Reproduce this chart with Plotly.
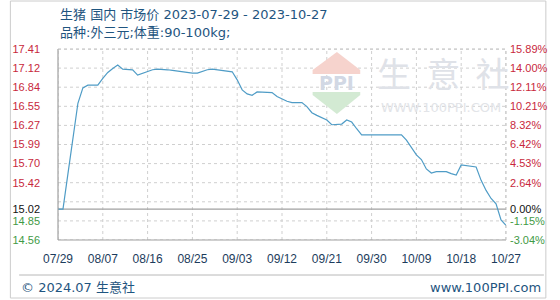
import pandas as pd
import plotly.graph_objects as go

# ---------------- data ----------------
start_date = "2023-07-29"
prices = [
    15.02, 15.02, 15.55, 16.10, 16.60, 16.83, 16.87, 16.87, 16.87, 16.97,
    17.06, 17.12, 17.17, 17.11, 17.11, 17.10, 17.02, 17.05, 17.08, 17.10,
    17.11, 17.11, 17.10, 17.09, 17.08, 17.06, 17.05, 17.05, 17.05, 17.08,
    17.10, 17.11, 17.10, 17.09, 17.08, 17.07, 16.95, 16.80, 16.74, 16.72,
    16.77, 16.77, 16.77, 16.76, 16.70, 16.66, 16.63, 16.61, 16.61, 16.61,
    16.55, 16.46, 16.42, 16.38, 16.35, 16.28, 16.28, 16.29, 16.35, 16.32,
    16.22, 16.13, 16.13, 16.13, 16.13, 16.13, 16.13, 16.13, 16.13, 16.13,
    16.05, 15.94, 15.83, 15.76, 15.62, 15.56, 15.58, 15.58, 15.58, 15.55,
    15.53, 15.68, 15.67, 15.65, 15.65, 15.45, 15.30, 15.18, 15.10, 14.86,
    14.78,
]
dates = pd.date_range(start_date, periods=len(prices), freq="D")

x_tick_labels = ["07/29", "08/07", "08/16", "08/25", "09/03", "09/12",
                 "09/21", "09/30", "10/09", "10/18", "10/27"]
x_tick_step_days = 9

base_price = 15.02
y_min, y_max = 14.56, 17.41
left_tick_vals = [17.41, 17.125, 16.84, 16.555, 16.27, 15.985, 15.70, 15.415, 15.02, 14.845, 14.56]
left_tick_text = ["17.41", "17.12", "16.84", "16.55", "16.27", "15.99", "15.70", "15.42", "15.02", "14.85", "14.56"]
right_tick_text = ["15.89%", "14.00%", "12.11%", "10.21%", "8.32%", "6.42%", "4.53%", "2.64%", "0.00%", "-1.15%", "-3.04%"]
grid_levels = [17.41, 17.125, 16.84, 16.555, 16.27, 15.985, 15.70, 15.415, 15.13, 14.845, 14.56]

title_line1 = "生猪 国内 市场价 2023-07-29 - 2023-10-27"
title_line2 = "品种:外三元;体重:90-100kg;"
footer_left = "© 2024.07 生意社"
footer_right = "www.100PPI.com"

# ---------------- styles ----------------
RED = "#c8283c"
GREEN = "#3f9a45"
BLACK = "#111111"
BLUE_TXT = "#1f5580"
LINE = "#4f9cc6"

def colored(texts, vals):
    out = []
    for t, v in zip(texts, vals):
        c = RED if v > base_price + 1e-9 else (BLACK if abs(v - base_price) < 1e-9 else GREEN)
        out.append(f"<span style='color:{c}'>{t}</span>")
    return out

W, H = 560, 300
L, R, T, B = 50, 49, 49, 60
PW, PH = W - L - R, H - T - B

def px(xp):
    return (xp - L) / PW

def py(yp):
    return (H - B - yp) / PH

tick_dates = pd.date_range(start_date, periods=len(x_tick_labels), freq=f"{x_tick_step_days}D")

fig = go.Figure()
fig.add_trace(go.Scatter(x=dates, y=prices, mode="lines",
                         line=dict(color=LINE, width=1.2), hoverinfo="skip",
                         showlegend=False))
fig.add_trace(go.Scatter(x=[dates[0]], y=[prices[0]], yaxis="y2", mode="markers",
                         marker=dict(opacity=0), hoverinfo="skip", showlegend=False))

shapes = []
# horizontal grid
for g in grid_levels:
    shapes.append(dict(type="line", xref="paper", yref="y", x0=0, x1=1, y0=g, y1=g,
                       line=dict(color="#cfcfcf", width=1, dash="dot"), layer="below"))
# vertical grid
for d in tick_dates:
    shapes.append(dict(type="line", xref="x", yref="paper", x0=d, x1=d, y0=0, y1=1,
                       line=dict(color="#cfcfcf", width=1, dash="dot"), layer="below"))
# baseline
shapes.append(dict(type="line", xref="paper", yref="y", x0=0, x1=1, y0=base_price, y1=base_price,
                   line=dict(color="#a0a0a0", width=1.2), layer="below"))
# solid left and bottom axis borders
shapes.append(dict(type="line", xref="paper", yref="paper", x0=0, x1=0, y0=0, y1=1,
                   line=dict(color="#a0a0a0", width=1.2)))
shapes.append(dict(type="line", xref="paper", yref="paper", x0=0, x1=1, y0=0, y1=0,
                   line=dict(color="#a0a0a0", width=1.2)))
# outer frame
shapes.append(dict(type="rect", xref="paper", yref="paper", x0=px(1), x1=px(552), y0=py(298), y1=py(1),
                   line=dict(color="#cccccc", width=1), layer="below"))
# footer separator
shapes.append(dict(type="line", xref="paper", yref="paper", x0=px(10), x1=px(550), y0=py(275), y1=py(275),
                   line=dict(color="#b8b8b8", width=1)))
# watermark logo
shapes.append(dict(type="path", xref="paper", yref="paper",
                   path=f"M {px(337)},{py(52)} L {px(361)},{py(70)} L {px(361)},{py(74)} L {px(312)},{py(74)} L {px(312)},{py(70)} Z",
                   fillcolor="#f6d3cd", line=dict(width=0), layer="below"))
shapes.append(dict(type="path", xref="paper", yref="paper",
                   path=f"M {px(312)},{py(92)} L {px(361)},{py(92)} L {px(361)},{py(95)} L {px(337)},{py(114)} L {px(312)},{py(95)} Z",
                   fillcolor="#d3ead3", line=dict(width=0), layer="below"))

annotations = [
    dict(text=title_line1, x=px(50), y=py(15), xref="paper", yref="paper", xanchor="left", yanchor="middle",
         showarrow=False, font=dict(family="DejaVu Sans, Noto Sans CJK SC", size=13, color=BLUE_TXT)),
    dict(text=title_line2, x=px(50), y=py(33), xref="paper", yref="paper", xanchor="left", yanchor="middle",
         showarrow=False, font=dict(family="DejaVu Sans, Noto Sans CJK SC", size=13, color=BLUE_TXT)),
    dict(text=footer_left, x=px(10), y=py(287), xref="paper", yref="paper", xanchor="left", yanchor="middle",
         showarrow=False, font=dict(family="DejaVu Sans, Noto Sans CJK SC", size=13, color=BLUE_TXT)),
    dict(text=footer_right, x=px(549), y=py(287), xref="paper", yref="paper", xanchor="right", yanchor="middle",
         showarrow=False, font=dict(family="DejaVu Sans, Noto Sans CJK SC", size=13, color=BLUE_TXT)),
    dict(text="<b>PPI</b>", x=px(337), y=py(83), xref="paper", yref="paper", xanchor="center", yanchor="middle",
         showarrow=False, font=dict(family="DejaVu Sans", size=19, color="#d2d8e4")),
    dict(text="生  意  社", x=px(446), y=py(72), xref="paper", yref="paper", xanchor="center", yanchor="middle",
         showarrow=False, font=dict(family="Noto Sans CJK SC", size=34, color="#dfe2e8")),
    dict(text="WWW.100PPI.COM", x=px(444), y=py(107), xref="paper", yref="paper", xanchor="center", yanchor="middle",
         showarrow=False, font=dict(family="DejaVu Sans", size=13, color="#e2e4e8")),
]

fig.update_layout(
    width=W, height=H, margin=dict(l=L, r=R, t=T, b=B, pad=0),
    paper_bgcolor="white", plot_bgcolor="white",
    shapes=shapes, annotations=annotations,
    xaxis=dict(range=[dates[0], dates[-1]], tickvals=list(tick_dates), ticktext=x_tick_labels,
               showgrid=False, zeroline=False, showline=False, ticks="",
               tickfont=dict(family="Liberation Sans", size=12, color="#1c3c5c"),
               ticklabelstandoff=10, fixedrange=True),
    yaxis=dict(range=[y_min, y_max], tickvals=left_tick_vals, ticktext=colored(left_tick_text, left_tick_vals),
               showgrid=False, zeroline=False, showline=False, ticks="",
               tickfont=dict(family="Liberation Sans", size=11), ticklabelstandoff=17),
    yaxis2=dict(range=[y_min, y_max], overlaying="y", side="right", tickvals=left_tick_vals,
                ticktext=colored(right_tick_text, left_tick_vals),
                showgrid=False, zeroline=False, showline=True, linecolor="#cfcfcf", ticks="",
                tickfont=dict(family="Liberation Sans", size=11), ticklabelstandoff=3),
)
# dotted top/right border
fig.add_shape(type="line", xref="paper", yref="paper", x0=0, x1=1, y0=1, y1=1,
              line=dict(color="#bdbdbd", width=1, dash="dot"))
fig.add_shape(type="line", xref="paper", yref="paper", x0=1, x1=1, y0=0, y1=1,
              line=dict(color="#bdbdbd", width=1, dash="dot"))
fig.update_yaxes(selector=dict(side="right"), showline=False)

fig.write_html("out.html")
